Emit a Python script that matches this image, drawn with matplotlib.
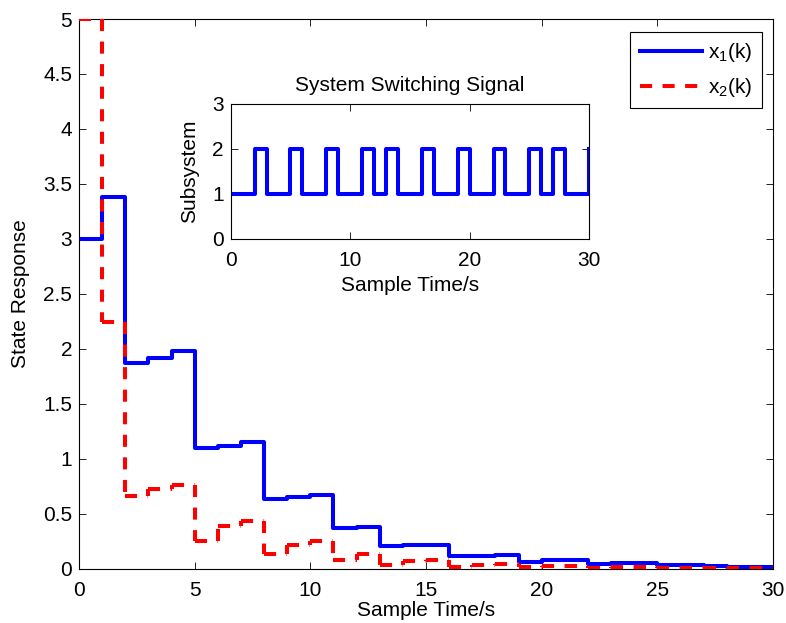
# -*- coding: utf-8 -*-
"""
切换系统状态响应图（主图 + 切换信号小图）
输出: out.png
"""

import matplotlib
matplotlib.use("Agg")
import matplotlib.pyplot as plt

plt.rcParams["font.family"] = ["Liberation Sans", "DejaVu Sans"]
plt.rcParams["mathtext.fontset"] = "custom"
plt.rcParams["mathtext.rm"] = "Liberation Sans"
plt.rcParams["mathtext.it"] = "Liberation Sans:italic"

# ── 数据 ─────────────────────────────────────────────
k = list(range(31))
x1 = [3.0, 3.38, 1.87, 1.92, 1.98, 1.10, 1.12, 1.15, 0.64, 0.65, 0.67,
      0.37, 0.38, 0.21, 0.215, 0.22, 0.115, 0.12, 0.13, 0.068, 0.08,
      0.085, 0.046, 0.052, 0.055, 0.033, 0.035, 0.024, 0.022, 0.02, 0.02]
x2 = [5.0, 2.245, 0.665, 0.725, 0.765, 0.252, 0.387, 0.435, 0.137, 0.222,
      0.25, 0.082, 0.137, 0.04, 0.07, 0.082, 0.021, 0.04, 0.046, 0.015,
      0.024, 0.03, 0.01, 0.014, 0.018, 0.008, 0.01, 0.012, 0.008, 0.008, 0.008]
sigma = [1, 1, 2, 1, 1, 2, 1, 1, 2, 1, 1, 2, 1, 2, 1, 1, 2, 1, 1, 2, 1,
         1, 2, 1, 1, 2, 1, 2, 1, 1, 2]

main_xticks = [0, 5, 10, 15, 20, 25, 30]
main_yticks = [0, 0.5, 1, 1.5, 2, 2.5, 3, 3.5, 4, 4.5, 5]
main_ylabels = ["0", "0.5", "1", "1.5", "2", "2.5", "3", "3.5", "4", "4.5", "5"]
inset_xticks = [0, 10, 20, 30]
inset_yticks = [0, 1, 2, 3]

FS = 15
LW = 2.9
DASH = (0, (3.0, 2.6))


def style_axes(ax):
    ax.tick_params(direction="in", length=5, width=0.6, top=True, right=True,
                   labelsize=FS)
    ax.tick_params(axis="x", pad=9)
    ax.tick_params(axis="y", pad=5)
    for sp in ax.spines.values():
        sp.set_linewidth(0.8)
        sp.set_color("black")


fig = plt.figure(figsize=(7.86, 6.23), dpi=100)

# ── 主图 ─────────────────────────────────────────────
ax = fig.add_axes([0.1005, 0.0867, 0.883, 0.8828])
line1, = ax.step(k, x1, where="post", color="#0000FF", linewidth=LW)

# 虚线阶梯：横段 + 竖段分开画，保证竖段也是虚线
red_h = ax.hlines(x2[:-1], k[:-1], k[1:], colors="#FF0000", linewidth=LW,
                  linestyles=DASH, zorder=3)
ax.vlines(k[1:], x2[:-1], x2[1:], colors="#FF0000", linewidth=LW,
          linestyles=DASH, zorder=3)

ax.set_xlim(0, 30)
ax.set_ylim(0, 5)
ax.set_xticks(main_xticks)
ax.set_yticks(main_yticks)
ax.set_yticklabels(main_ylabels)
style_axes(ax)
ax.set_xlabel("Sample Time/s", fontsize=FS, labelpad=0.5)
ax.set_ylabel("State Response", fontsize=FS, labelpad=9)

leg = ax.legend([line1, red_h], ["x$_1$(k)", "x$_2$(k)"],
                loc="upper right", bbox_to_anchor=(762 / 786, 1 - 32 / 623),
                bbox_transform=fig.transFigure, fontsize=FS, fancybox=False,
                framealpha=1, edgecolor="black", handlelength=3.0,
                handletextpad=0.3, labelspacing=0.55, borderpad=0.45,
                borderaxespad=0)
leg.get_frame().set_linewidth(0.8)
leg.set_zorder(5)

# ── 小图：切换信号 ────────────────────────────────────
ins = fig.add_axes([0.2935, 0.6164, 0.456, 0.2167])
ins.step(k, sigma, where="post", color="#0000FF", linewidth=LW)
ins.set_xlim(0, 30)
ins.set_ylim(0, 3)
ins.set_xticks(inset_xticks)
ins.set_yticks(inset_yticks)
style_axes(ins)
ins.set_title("System Switching Signal", fontsize=FS, pad=9)
ins.set_xlabel("Sample Time/s", fontsize=FS, labelpad=4)
ins.set_ylabel("Subsystem", fontsize=FS, labelpad=9)

fig.savefig("out.png", dpi=100)
plt.close(fig)
